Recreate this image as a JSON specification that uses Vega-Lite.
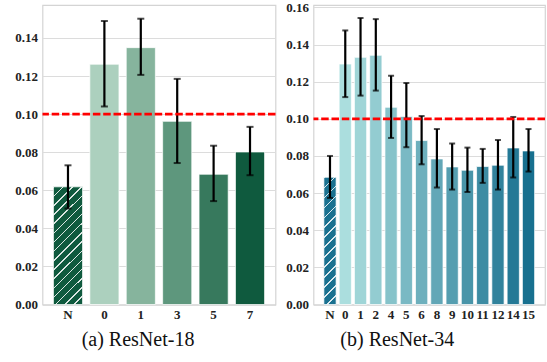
{
  "$schema": "https://vega.github.io/schema/vega-lite/v6.json",
  "padding": {"left": 13.5, "top": 0, "right": 0, "bottom": 0},
  "background": "white",
  "resolve": {"scale": {"x": "independent", "y": "independent", "color": "independent"}},
  "config": {
    "font": "Liberation Serif",
    "view": {"stroke": "#d4d4d4", "strokeWidth": 1.2},
    "axis": {
      "labelFont": "Liberation Serif",
      "labelFontSize": 13,
      "labelFontWeight": "bold",
      "labelColor": "#222222",
      "labelOverlap": false,
      "ticks": false,
      "tickSize": 0,
      "domain": false,
      "title": null
    },
    "axisY": {"grid": true, "gridColor": "#dcdcdc", "gridWidth": 1, "labelPadding": 5, "format": ".2f"},
    "axisX": {"grid": false, "labelAngle": 0, "labelPadding": 3.5},
    "title": {"font": "Liberation Serif", "fontSize": 20, "fontWeight": "normal", "color": "#111111", "orient": "bottom", "offset": 9}
  },
  "datasets": {
    "resnet18": [
      {"layer": "N", "value": 0.0618, "lo": 0.0504, "hi": 0.0731},
      {"layer": "0", "value": 0.1262, "lo": 0.1040, "hi": 0.1489},
      {"layer": "1", "value": 0.1349, "lo": 0.1206, "hi": 0.1501},
      {"layer": "3", "value": 0.0962, "lo": 0.0743, "hi": 0.1185},
      {"layer": "5", "value": 0.0684, "lo": 0.0543, "hi": 0.0834},
      {"layer": "7", "value": 0.0801, "lo": 0.0679, "hi": 0.0933}
    ],
    "resnet34": [
      {"layer": "N", "value": 0.0685, "lo": 0.0574, "hi": 0.0800},
      {"layer": "0", "value": 0.1295, "lo": 0.1117, "hi": 0.1476},
      {"layer": "1", "value": 0.1331, "lo": 0.1125, "hi": 0.1543},
      {"layer": "2", "value": 0.1342, "lo": 0.1152, "hi": 0.1537},
      {"layer": "4", "value": 0.1062, "lo": 0.0897, "hi": 0.1232},
      {"layer": "5", "value": 0.1013, "lo": 0.0847, "hi": 0.1193},
      {"layer": "6", "value": 0.0883, "lo": 0.0755, "hi": 0.1015},
      {"layer": "8", "value": 0.0784, "lo": 0.0630, "hi": 0.0945},
      {"layer": "9", "value": 0.0741, "lo": 0.0619, "hi": 0.0867},
      {"layer": "10", "value": 0.0723, "lo": 0.0606, "hi": 0.0845},
      {"layer": "11", "value": 0.0743, "lo": 0.0655, "hi": 0.0838},
      {"layer": "12", "value": 0.0750, "lo": 0.0619, "hi": 0.0886},
      {"layer": "14", "value": 0.0843, "lo": 0.0684, "hi": 0.1010},
      {"layer": "15", "value": 0.0827, "lo": 0.0716, "hi": 0.0945}
    ]
  },
  "spacing": 7,
  "hconcat": [
    {
      "width": 233,
      "height": 299.5,
      "title": {"text": "(a) ResNet-18", "dx": -21},
      "data": {"name": "resnet18"},
      "encoding": {
        "x": {"field": "layer", "type": "nominal", "sort": null,
              "scale": {"domain": ["N", "0", "1", "3", "5", "7"], "paddingInner": 0.2, "paddingOuter": 0.3}}
      },
      "layer": [
        {
          "mark": {"type": "bar", "stroke": "white", "strokeWidth": 1, "strokeOpacity": 0.7},
          "encoding": {
            "y": {"field": "value", "type": "quantitative",
                  "scale": {"domain": [0, 0.1573], "nice": false},
                  "axis": {"values": [0, 0.02, 0.04, 0.06, 0.08, 0.10, 0.12, 0.14]}},
            "color": {"field": "layer", "type": "nominal", "legend": null,
                      "scale": {"domain": ["N", "0", "1", "3", "5", "7"],
                                "range": ["#0f5a3e", "#acd0be", "#86b49d", "#5e977d", "#37795d", "#0f5a3e"]}}
          }
        },
        {
          "transform": [{"filter": "datum.layer === 'N'"}],
          "mark": {
            "type": "bar",
            "fill": {
              "gradient": "linear", "x1": 0, "y1": 0, "x2": 0.2898, "y2": 1.1752,
              "stops": [
                {"offset": 0.0, "color": "rgba(255,255,255,0.85)"}, {"offset": 0.01, "color": "rgba(255,255,255,0.85)"}, {"offset": 0.01, "color": "rgba(255,255,255,0)"}, {"offset": 0.0625, "color": "rgba(255,255,255,0)"},
                {"offset": 0.0625, "color": "rgba(255,255,255,0.85)"}, {"offset": 0.0725, "color": "rgba(255,255,255,0.85)"}, {"offset": 0.0725, "color": "rgba(255,255,255,0)"}, {"offset": 0.125, "color": "rgba(255,255,255,0)"},
                {"offset": 0.125, "color": "rgba(255,255,255,0.85)"}, {"offset": 0.135, "color": "rgba(255,255,255,0.85)"}, {"offset": 0.135, "color": "rgba(255,255,255,0)"}, {"offset": 0.1875, "color": "rgba(255,255,255,0)"},
                {"offset": 0.1875, "color": "rgba(255,255,255,0.85)"}, {"offset": 0.1975, "color": "rgba(255,255,255,0.85)"}, {"offset": 0.1975, "color": "rgba(255,255,255,0)"}, {"offset": 0.25, "color": "rgba(255,255,255,0)"},
                {"offset": 0.25, "color": "rgba(255,255,255,0.85)"}, {"offset": 0.26, "color": "rgba(255,255,255,0.85)"}, {"offset": 0.26, "color": "rgba(255,255,255,0)"}, {"offset": 0.3125, "color": "rgba(255,255,255,0)"},
                {"offset": 0.3125, "color": "rgba(255,255,255,0.85)"}, {"offset": 0.3225, "color": "rgba(255,255,255,0.85)"}, {"offset": 0.3225, "color": "rgba(255,255,255,0)"}, {"offset": 0.375, "color": "rgba(255,255,255,0)"},
                {"offset": 0.375, "color": "rgba(255,255,255,0.85)"}, {"offset": 0.385, "color": "rgba(255,255,255,0.85)"}, {"offset": 0.385, "color": "rgba(255,255,255,0)"}, {"offset": 0.4375, "color": "rgba(255,255,255,0)"},
                {"offset": 0.4375, "color": "rgba(255,255,255,0.85)"}, {"offset": 0.4475, "color": "rgba(255,255,255,0.85)"}, {"offset": 0.4475, "color": "rgba(255,255,255,0)"}, {"offset": 0.5, "color": "rgba(255,255,255,0)"},
                {"offset": 0.5, "color": "rgba(255,255,255,0.85)"}, {"offset": 0.51, "color": "rgba(255,255,255,0.85)"}, {"offset": 0.51, "color": "rgba(255,255,255,0)"}, {"offset": 0.5625, "color": "rgba(255,255,255,0)"},
                {"offset": 0.5625, "color": "rgba(255,255,255,0.85)"}, {"offset": 0.5725, "color": "rgba(255,255,255,0.85)"}, {"offset": 0.5725, "color": "rgba(255,255,255,0)"}, {"offset": 0.625, "color": "rgba(255,255,255,0)"},
                {"offset": 0.625, "color": "rgba(255,255,255,0.85)"}, {"offset": 0.635, "color": "rgba(255,255,255,0.85)"}, {"offset": 0.635, "color": "rgba(255,255,255,0)"}, {"offset": 0.6875, "color": "rgba(255,255,255,0)"},
                {"offset": 0.6875, "color": "rgba(255,255,255,0.85)"}, {"offset": 0.6975, "color": "rgba(255,255,255,0.85)"}, {"offset": 0.6975, "color": "rgba(255,255,255,0)"}, {"offset": 0.75, "color": "rgba(255,255,255,0)"},
                {"offset": 0.75, "color": "rgba(255,255,255,0.85)"}, {"offset": 0.76, "color": "rgba(255,255,255,0.85)"}, {"offset": 0.76, "color": "rgba(255,255,255,0)"}, {"offset": 0.8125, "color": "rgba(255,255,255,0)"},
                {"offset": 0.8125, "color": "rgba(255,255,255,0.85)"}, {"offset": 0.8225, "color": "rgba(255,255,255,0.85)"}, {"offset": 0.8225, "color": "rgba(255,255,255,0)"}, {"offset": 0.875, "color": "rgba(255,255,255,0)"},
                {"offset": 0.875, "color": "rgba(255,255,255,0.85)"}, {"offset": 0.885, "color": "rgba(255,255,255,0.85)"}, {"offset": 0.885, "color": "rgba(255,255,255,0)"}, {"offset": 0.9375, "color": "rgba(255,255,255,0)"},
                {"offset": 0.9375, "color": "rgba(255,255,255,0.85)"}, {"offset": 0.9475, "color": "rgba(255,255,255,0.85)"}, {"offset": 0.9475, "color": "rgba(255,255,255,0)"}, {"offset": 1.0, "color": "rgba(255,255,255,0)"}
              ]
            }
          },
          "encoding": {"y": {"field": "value", "type": "quantitative", "axis": {"values": [0, 0.02, 0.04, 0.06, 0.08, 0.10, 0.12, 0.14]}}}
        },
        {
          "mark": {"type": "rule", "color": "black", "strokeWidth": 2.2},
          "encoding": {"y": {"field": "lo", "type": "quantitative", "axis": {"values": [0, 0.02, 0.04, 0.06, 0.08, 0.10, 0.12, 0.14]}}, "y2": {"field": "hi"}}
        },
        {
          "mark": {"type": "tick", "color": "black", "size": 7, "thickness": 2},
          "encoding": {"y": {"field": "lo", "type": "quantitative", "axis": {"values": [0, 0.02, 0.04, 0.06, 0.08, 0.10, 0.12, 0.14]}}}
        },
        {
          "mark": {"type": "tick", "color": "black", "size": 7, "thickness": 2},
          "encoding": {"y": {"field": "hi", "type": "quantitative", "axis": {"values": [0, 0.02, 0.04, 0.06, 0.08, 0.10, 0.12, 0.14]}}}
        },
        {
          "data": {"values": [{"threshold": 0.1}]},
          "mark": {"type": "rule", "color": "#ff0000", "strokeWidth": 2.7, "strokeDash": [7.5, 2.8]},
          "encoding": {"y": {"field": "threshold", "type": "quantitative", "axis": {"values": [0, 0.02, 0.04, 0.06, 0.08, 0.10, 0.12, 0.14]}}, "x": null}
        }
      ]
    },
    {
      "width": 231.5,
      "height": 299.5,
      "title": {"text": "(b) ResNet-34", "dx": -32},
      "data": {"name": "resnet34"},
      "encoding": {
        "x": {"field": "layer", "type": "nominal", "sort": null,
              "scale": {"domain": ["N", "0", "1", "2", "4", "5", "6", "8", "9", "10", "11", "12", "14", "15"], "paddingInner": 0.2, "paddingOuter": 0.68}}
      },
      "layer": [
        {
          "mark": {"type": "bar", "stroke": "white", "strokeWidth": 1, "strokeOpacity": 0.7},
          "encoding": {
            "y": {"field": "value", "type": "quantitative",
                  "scale": {"domain": [0, 0.1613], "nice": false},
                  "axis": {"values": [0, 0.02, 0.04, 0.06, 0.08, 0.10, 0.12, 0.14, 0.16]}},
            "color": {"field": "layer", "type": "nominal", "legend": null,
                      "scale": {"domain": ["N", "0", "1", "2", "4", "5", "6", "8", "9", "10", "11", "12", "14", "15"],
                                "range": ["#1a7190", "#abdede", "#9fd5d7", "#93ccd1", "#86c3ca", "#7ab9c4", "#6eb0bd", "#62a7b7", "#559eb0", "#4995a9", "#3d8ca3", "#31829c", "#247996", "#18708f"]}}
          }
        },
        {
          "transform": [{"filter": "datum.layer === 'N'"}],
          "mark": {
            "type": "bar",
            "fill": {
              "gradient": "linear", "x1": 0, "y1": 0, "x2": 0.1039, "y2": 1.0857,
              "stops": [
                {"offset": 0.0, "color": "rgba(255,255,255,0.85)"}, {"offset": 0.011, "color": "rgba(255,255,255,0.85)"}, {"offset": 0.011, "color": "rgba(255,255,255,0)"}, {"offset": 0.0714, "color": "rgba(255,255,255,0)"},
                {"offset": 0.0714, "color": "rgba(255,255,255,0.85)"}, {"offset": 0.0824, "color": "rgba(255,255,255,0.85)"}, {"offset": 0.0824, "color": "rgba(255,255,255,0)"}, {"offset": 0.1429, "color": "rgba(255,255,255,0)"},
                {"offset": 0.1429, "color": "rgba(255,255,255,0.85)"}, {"offset": 0.1539, "color": "rgba(255,255,255,0.85)"}, {"offset": 0.1539, "color": "rgba(255,255,255,0)"}, {"offset": 0.2143, "color": "rgba(255,255,255,0)"},
                {"offset": 0.2143, "color": "rgba(255,255,255,0.85)"}, {"offset": 0.2253, "color": "rgba(255,255,255,0.85)"}, {"offset": 0.2253, "color": "rgba(255,255,255,0)"}, {"offset": 0.2857, "color": "rgba(255,255,255,0)"},
                {"offset": 0.2857, "color": "rgba(255,255,255,0.85)"}, {"offset": 0.2967, "color": "rgba(255,255,255,0.85)"}, {"offset": 0.2967, "color": "rgba(255,255,255,0)"}, {"offset": 0.3571, "color": "rgba(255,255,255,0)"},
                {"offset": 0.3571, "color": "rgba(255,255,255,0.85)"}, {"offset": 0.3681, "color": "rgba(255,255,255,0.85)"}, {"offset": 0.3681, "color": "rgba(255,255,255,0)"}, {"offset": 0.4286, "color": "rgba(255,255,255,0)"},
                {"offset": 0.4286, "color": "rgba(255,255,255,0.85)"}, {"offset": 0.4396, "color": "rgba(255,255,255,0.85)"}, {"offset": 0.4396, "color": "rgba(255,255,255,0)"}, {"offset": 0.5, "color": "rgba(255,255,255,0)"},
                {"offset": 0.5, "color": "rgba(255,255,255,0.85)"}, {"offset": 0.511, "color": "rgba(255,255,255,0.85)"}, {"offset": 0.511, "color": "rgba(255,255,255,0)"}, {"offset": 0.5714, "color": "rgba(255,255,255,0)"},
                {"offset": 0.5714, "color": "rgba(255,255,255,0.85)"}, {"offset": 0.5824, "color": "rgba(255,255,255,0.85)"}, {"offset": 0.5824, "color": "rgba(255,255,255,0)"}, {"offset": 0.6429, "color": "rgba(255,255,255,0)"},
                {"offset": 0.6429, "color": "rgba(255,255,255,0.85)"}, {"offset": 0.6539, "color": "rgba(255,255,255,0.85)"}, {"offset": 0.6539, "color": "rgba(255,255,255,0)"}, {"offset": 0.7143, "color": "rgba(255,255,255,0)"},
                {"offset": 0.7143, "color": "rgba(255,255,255,0.85)"}, {"offset": 0.7253, "color": "rgba(255,255,255,0.85)"}, {"offset": 0.7253, "color": "rgba(255,255,255,0)"}, {"offset": 0.7857, "color": "rgba(255,255,255,0)"},
                {"offset": 0.7857, "color": "rgba(255,255,255,0.85)"}, {"offset": 0.7967, "color": "rgba(255,255,255,0.85)"}, {"offset": 0.7967, "color": "rgba(255,255,255,0)"}, {"offset": 0.8571, "color": "rgba(255,255,255,0)"},
                {"offset": 0.8571, "color": "rgba(255,255,255,0.85)"}, {"offset": 0.8681, "color": "rgba(255,255,255,0.85)"}, {"offset": 0.8681, "color": "rgba(255,255,255,0)"}, {"offset": 0.9286, "color": "rgba(255,255,255,0)"},
                {"offset": 0.9286, "color": "rgba(255,255,255,0.85)"}, {"offset": 0.9396, "color": "rgba(255,255,255,0.85)"}, {"offset": 0.9396, "color": "rgba(255,255,255,0)"}, {"offset": 1.0, "color": "rgba(255,255,255,0)"}
              ]
            }
          },
          "encoding": {"y": {"field": "value", "type": "quantitative", "axis": {"values": [0, 0.02, 0.04, 0.06, 0.08, 0.10, 0.12, 0.14, 0.16]}}}
        },
        {
          "mark": {"type": "rule", "color": "black", "strokeWidth": 2.2},
          "encoding": {"y": {"field": "lo", "type": "quantitative", "axis": {"values": [0, 0.02, 0.04, 0.06, 0.08, 0.10, 0.12, 0.14, 0.16]}}, "y2": {"field": "hi"}}
        },
        {
          "mark": {"type": "tick", "color": "black", "size": 6, "thickness": 2},
          "encoding": {"y": {"field": "lo", "type": "quantitative", "axis": {"values": [0, 0.02, 0.04, 0.06, 0.08, 0.10, 0.12, 0.14, 0.16]}}}
        },
        {
          "mark": {"type": "tick", "color": "black", "size": 6, "thickness": 2},
          "encoding": {"y": {"field": "hi", "type": "quantitative", "axis": {"values": [0, 0.02, 0.04, 0.06, 0.08, 0.10, 0.12, 0.14, 0.16]}}}
        },
        {
          "data": {"values": [{"threshold": 0.1}]},
          "mark": {"type": "rule", "color": "#ff0000", "strokeWidth": 2.7, "strokeDash": [7.5, 2.8]},
          "encoding": {"y": {"field": "threshold", "type": "quantitative", "axis": {"values": [0, 0.02, 0.04, 0.06, 0.08, 0.10, 0.12, 0.14, 0.16]}}, "x": null}
        }
      ]
    }
  ]
}
